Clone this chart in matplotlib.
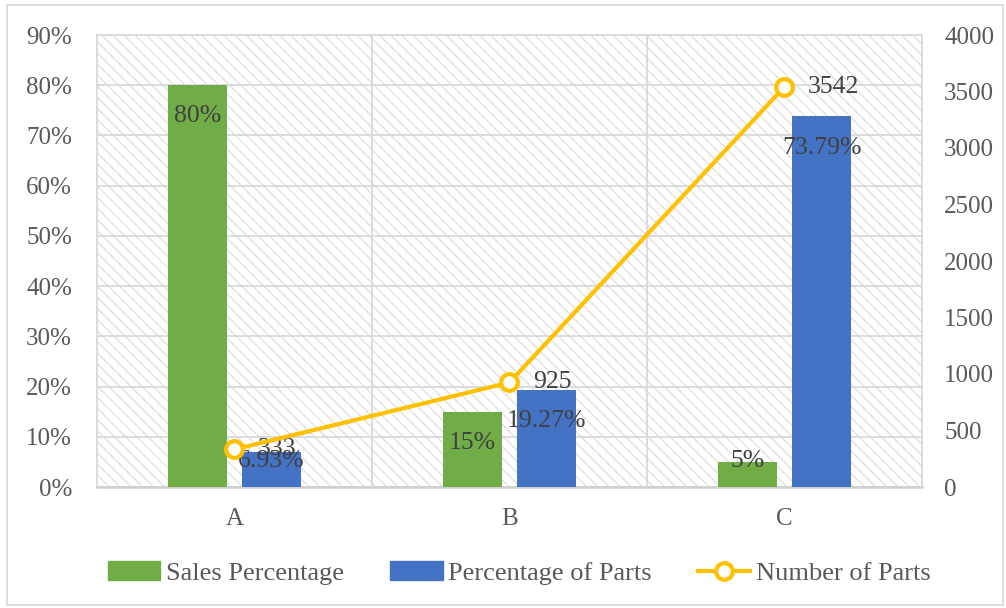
import numpy as np
import matplotlib.pyplot as plt
from matplotlib.patches import Rectangle
from matplotlib.lines import Line2D
from matplotlib.patches import Patch

categories = ["A", "B", "C"]
sales_pct = [80, 15, 5]
parts_pct = [6.93, 19.27, 73.79]
parts_num = [333, 925, 3542]

plt.rcParams['font.family'] = ['Liberation Serif', 'DejaVu Serif']
plt.rcParams['hatch.color'] = '#dedede'
plt.rcParams['hatch.linewidth'] = 0.9

GREEN = '#70ad47'
BLUE = '#4472c4'
ORANGE = '#ffc000'
TXT = '#404040'
TICK = '#595959'
GRID = '#d9d9d9'

fig = plt.figure(figsize=(10.06, 6.08), dpi=100)
ax = fig.add_axes([97 / 1006, 1 - 487 / 608, 825 / 1006, 452 / 608])

x = np.arange(len(categories))
w = 0.215
off = 0.135

ax.patch.set_facecolor('white')
ax.patch.set_hatch('\\\\\\')
ax.patch.set_edgecolor('#dedede')

ax.bar(x - off, sales_pct, w, color=GREEN, zorder=3)
ax.bar(x + off, parts_pct, w, color=BLUE, zorder=3)

ax.set_xlim(-0.5, 2.5)
ax.set_ylim(0, 90)
ax.set_yticks(np.arange(0, 91, 10))
ax.set_yticklabels([f"{v}%" for v in range(0, 91, 10)])
ax.set_xticks(x)
ax.set_xticklabels(categories)
ax.set_xticks([0.5, 1.5], minor=True)
ax.grid(axis='y', color=GRID, lw=1.3, zorder=1)
ax.grid(axis='x', which='minor', color=GRID, lw=1.3, zorder=1)
ax.tick_params(which='both', length=0, labelsize=18, colors=TICK)
ax.tick_params(axis='y', pad=18)
ax.tick_params(axis='x', pad=15)
for side in ['left', 'right', 'top']:
    ax.spines[side].set_color(GRID)
    ax.spines[side].set_linewidth(1.3)
ax.spines['bottom'].set_color('#d0d0d0')
ax.spines['bottom'].set_linewidth(1.8)


def label_y(v):
    # inside end, but not lower than near the base
    return max(v - 6.2, 5.2)


for i, v in enumerate(sales_pct):
    ax.text(x[i] - off, label_y(v), f"{v}%", ha='center', va='center', fontsize=18.5, color=TXT, zorder=5)
for i, v in enumerate(parts_pct):
    ax.text(x[i] + off, label_y(v), f"{v:.2f}%", ha='center', va='center', fontsize=18.5, color=TXT, zorder=5)

ax2 = ax.twinx()
ax2.set_ylim(0, 4000)
ax2.set_yticks(np.arange(0, 4001, 500))
ax2.plot(x, parts_num, color=ORANGE, lw=3, marker='o', ms=12, mfc='white', mec=ORANGE, mew=3, zorder=4)
for i, v in enumerate(parts_num):
    ax2.annotate(str(v), (x[i], v), xytext=(17, 0), textcoords='offset points',
                 ha='left', va='center', fontsize=18.5, color=TXT)
ax2.tick_params(length=0, labelsize=18, colors=TICK, pad=16)
for s in ax2.spines.values():
    s.set_visible(False)

handles = [Patch(color=GREEN), Patch(color=BLUE),
           Line2D([], [], color=ORANGE, lw=3, marker='o', ms=12, mfc='white', mec=ORANGE, mew=3)]
fig.legend(handles, ["Sales Percentage", "Percentage of Parts", "Number of Parts"],
           loc='center', bbox_to_anchor=(519 / 1006, 1 - 573 / 608), ncol=3, frameon=False,
           fontsize=19, labelcolor=TICK, columnspacing=1.75, handlelength=2.0, handletextpad=0.2)

fig.patches.append(Rectangle((7 / 1006, 3 / 608), 996 / 1006, 600 / 608, transform=fig.transFigure,
                             fill=False, edgecolor=GRID, lw=1.3))

fig.savefig("out.png", dpi=100)
